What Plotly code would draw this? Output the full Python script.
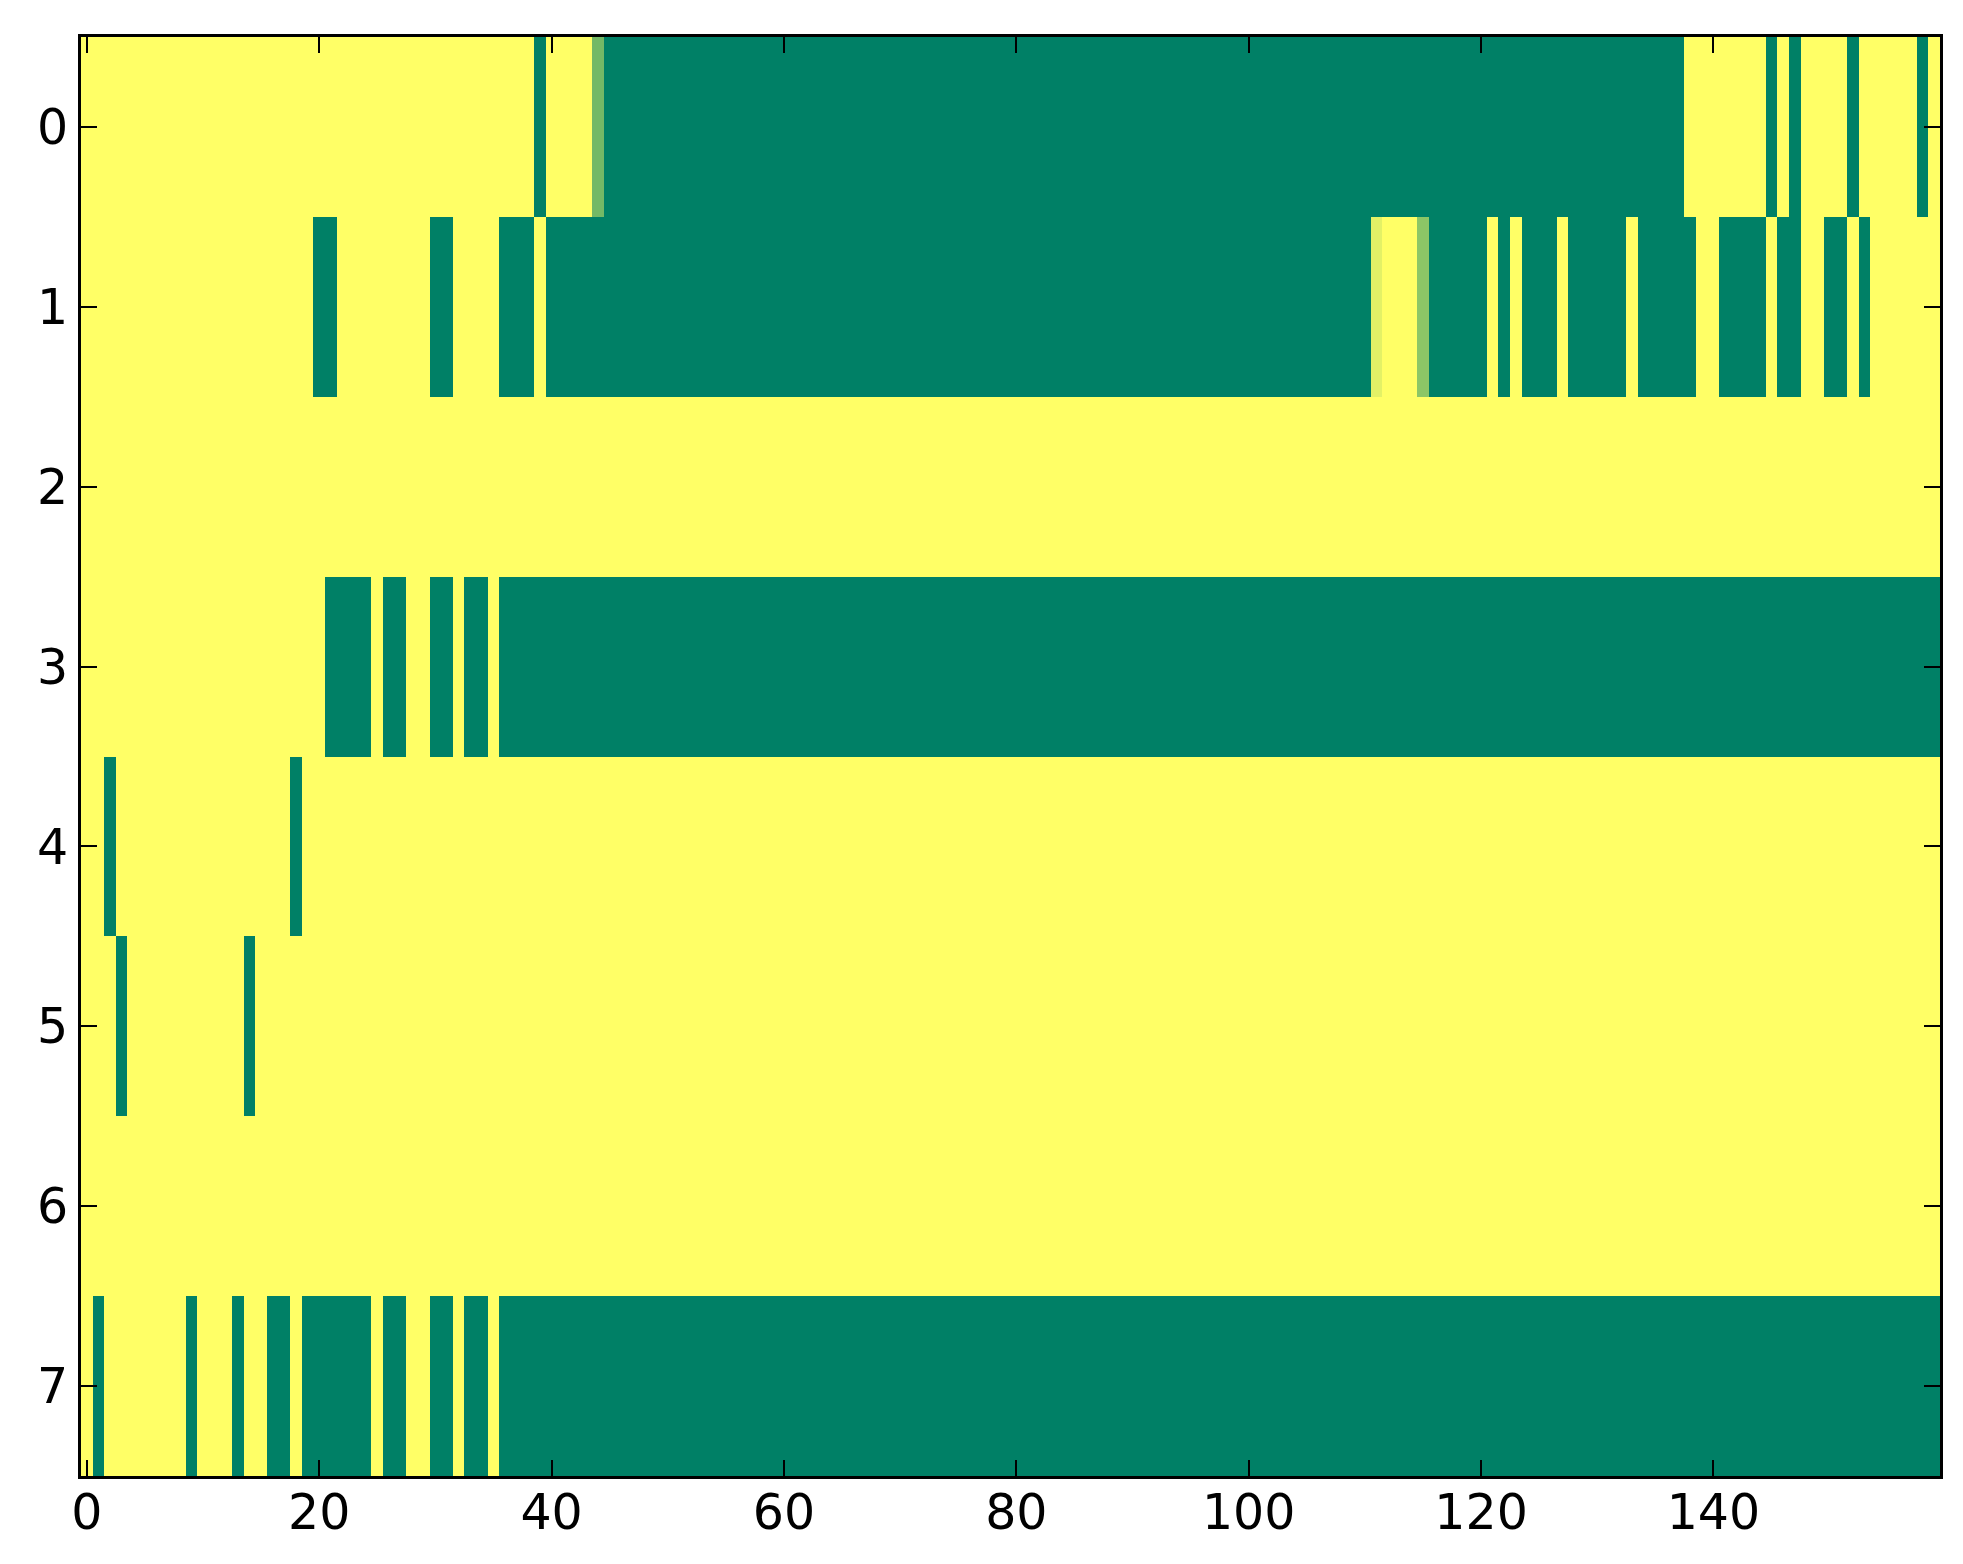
import plotly.graph_objects as go

# each row read off the picture as runs of (value, number of columns)
# 0 = green end of the colormap, 1 = yellow end
row0 = [(1, 39), (0, 1), (1, 4), (0.45, 1), (0, 93), (1, 7), (0, 1), (1, 1),
        (0, 1), (1, 4), (0, 1), (1, 5), (0, 1), (1, 1)]
row1 = [(1, 20), (0, 2), (1, 8), (0, 2), (1, 4), (0, 3), (1, 1), (0, 71),
        (0.89, 1), (1, 3), (0.55, 1), (0, 5), (1, 1), (0, 1), (1, 1), (0, 3),
        (1, 1), (0, 5), (1, 1), (0, 5), (1, 2), (0, 4), (1, 1), (0, 2),
        (1, 2), (0, 2), (1, 1), (0, 1), (1, 6)]
row2 = [(1, 160)]
row3 = [(1, 21), (0, 4), (1, 1), (0, 2), (1, 2), (0, 2), (1, 1), (0, 2),
        (1, 1), (0, 124)]
row4 = [(1, 2), (0, 1), (1, 15), (0, 1), (1, 141)]
row5 = [(1, 3), (0, 1), (1, 10), (0, 1), (1, 145)]
row6 = [(1, 160)]
row7 = [(1, 1), (0, 1), (1, 7), (0, 1), (1, 3), (0, 1), (1, 2), (0, 2),
        (1, 1), (0, 6), (1, 1), (0, 2), (1, 2), (0, 2), (1, 1), (0, 2),
        (1, 1), (0, 124)]

rows = [row0, row1, row2, row3, row4, row5, row6, row7]


def expand(runs):
    out = []
    for v, n in runs:
        out += [v] * n
    return out


z = [expand(r) for r in rows]

# matplotlib "summer"
summer = [[0, "#008066"], [1, "#FFFF66"]]

fig = go.Figure(go.Heatmap(z=z, colorscale=summer, zmin=0, zmax=1,
                           showscale=False))

axis_style = dict(showline=True, linewidth=3, linecolor="black", mirror="allticks",
                  ticks="inside", ticklen=16, tickwidth=2, tickcolor="black",
                  showgrid=False, zeroline=False)

fig.update_xaxes(range=[-0.5, 159.5], tickvals=list(range(0, 160, 20)),
                 ticklabelstandoff=-9, **axis_style)
fig.update_yaxes(range=[7.5, -0.5], tickvals=list(range(8)), **axis_style)

fig.update_layout(width=1963, height=1564,
                  margin=dict(l=73, r=31, t=29, b=96),
                  paper_bgcolor="white", plot_bgcolor="white",
                  font=dict(family="DejaVu Sans", size=49, color="black"))

fig.write_html("out.html")
